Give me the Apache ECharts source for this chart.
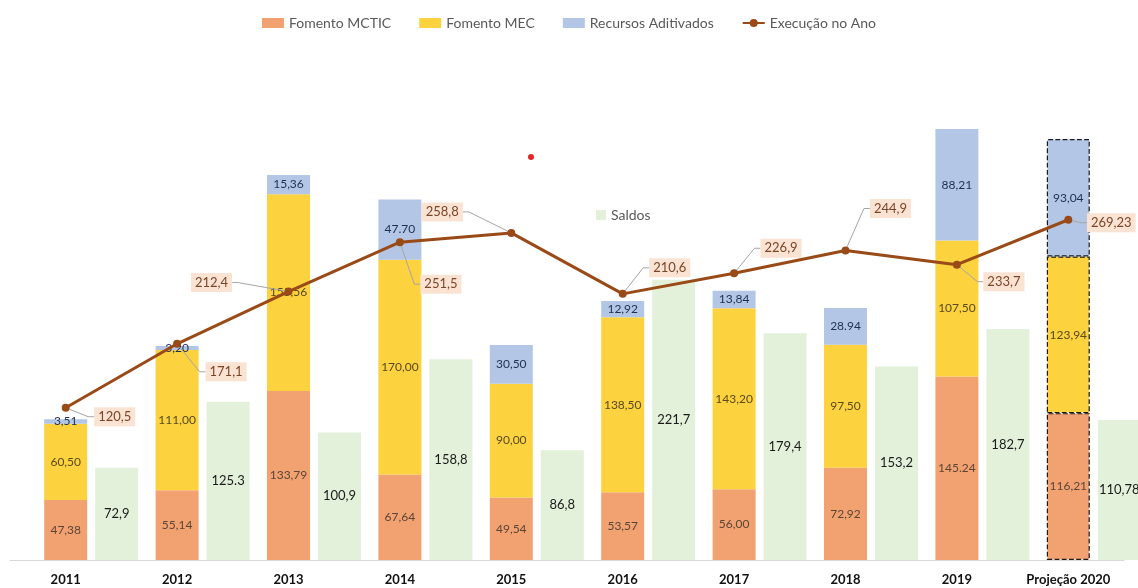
<!DOCTYPE html>
<html>
<head>
<meta charset="utf-8">
<script src="https://cdn.jsdelivr.net/npm/echarts@6/dist/echarts.min.js"></script>
<style>
  html, body { margin: 0; padding: 0; background: #fff; }
  #chart { width: 1138px; height: 588px; }
</style>
</head>
<body>
<div id="chart"></div>
<script>
// categories
const anos = ["2011", "2012", "2013", "2014", "2015", "2016", "2017", "2018", "2019", "Projeção 2020"];

// stacked values
const fomentoMctic = [47.38, 55.14, 133.79, 67.64, 49.54, 53.57, 56.0, 72.92, 145.24, 116.21];
const fomentoMec = [60.5, 111.0, 155.56, 170.0, 90.0, 138.5, 143.2, 97.5, 107.5, 123.94];
const recursosAditivados = [3.51, 3.2, 15.36, 47.7, 30.5, 12.92, 13.84, 28.94, 88.21, 93.04];
const saldos = [72.9, 125.3, 100.9, 158.8, 86.8, 221.7, 179.4, 153.2, 182.7, 110.78];
const execucao = [120.5, 171.1, 212.4, 251.5, 258.8, 210.6, 226.9, 244.9, 233.7, 269.23];

// texts as printed on the chart
const mcticLabels = ["47,38", "55,14", "133,79", "67,64", "49,54", "53,57", "56,00", "72,92", "145.24", "116,21"];
const mecLabels = ["60,50", "111,00", "155,56", "170,00", "90,00", "138,50", "143,20", "97,50", "107,50", "123,94"];
const aditLabels = ["3,51", "3,20", "15,36", "47.70", "30,50", "12,92", "13,84", "28.94", "88,21", "93,04"];
const saldoLabels = ["72,9", "125.3", "100,9", "158,8", "86,8", "221,7", "179,4", "153,2", "182,7", "110,78"];
const execLabels = ["120,5", "171,1", "212,4", "251,5", "258,8", "210,6", "226,9", "244,9", "233,7", "269,23"];

// where each "Execução" box sits relative to its point
const execOffsets = [[49, 9], [49, 28], [-77, -9], [41, 42], [-69, -21], [47, -26], [47, -25], [45, -42], [47, 17], [43, 3]];

const font = "Lato, 'Open Sans', sans-serif";
const lastIdx = anos.length - 1;

// projection bar gets a dashed outline
function withProjection(arr) {
  return arr.map((v, i) => {
    if (i !== lastIdx) return v;
    return {
      value: v,
      itemStyle: { borderColor: "#1a1a1a", borderWidth: 1.2, borderType: "dashed" },
    };
  });
}

function stackSeries(name, data, color, labels, labelColor) {
  return {
    name: name,
    type: "bar",
    stack: "total",
    barWidth: 43,
    barGap: "18.6%",
    z: 2,
    itemStyle: { color: color },
    label: {
      show: true,
      position: "inside",
      fontFamily: font,
      fontSize: 12,
      color: labelColor,
      formatter: (p) => labels[p.dataIndex],
    },
    data: withProjection(data),
  };
}

const chart = echarts.init(document.getElementById("chart"));

const options = {
  animation: false,
  backgroundColor: "#ffffff",
  textStyle: { fontFamily: font },
  legend: [
    {
      top: 11,
      left: "center",
      itemWidth: 22,
      itemHeight: 10,
      itemGap: 28,
      textStyle: { fontFamily: font, fontSize: 14, color: "#595959" },
      data: [
        { name: "Fomento MCTIC", icon: "rect" },
        { name: "Fomento MEC", icon: "rect" },
        { name: "Recursos Aditivados", icon: "rect" },
        { name: "Execução no Ano" },
      ],
    },
    {
      top: 203,
      left: 591,
      itemWidth: 10,
      itemHeight: 10,
      textStyle: { fontFamily: font, fontSize: 14, color: "#595959" },
      data: [{ name: "Saldos", icon: "rect" }],
    },
  ],
  grid: {
    left: 10,
    right: 14,
    top: 124,
    bottom: 28,
    containLabel: false,
  },
  xAxis: {
    type: "category",
    data: anos,
    axisLine: { lineStyle: { color: "#d9d9d9", width: 1 } },
    axisTick: { show: false },
    axisLabel: {
      fontFamily: font,
      fontWeight: "bold",
      fontSize: 13,
      color: "#111",
      margin: 13,
      interval: 0,
    },
  },
  yAxis: {
    type: "value",
    min: 0,
    max: 345,
    show: false,
    splitLine: { show: false },
  },
  graphic: [
    {
      type: "circle",
      left: 528,
      top: 154,
      shape: { r: 3 },
      style: { fill: "#e0262a" },
    },
  ],
  series: [
    // empty spacer so the stacked bars stay centred on the category
    { name: "spacer", type: "bar", barWidth: 43, barGap: "18.6%", data: [], silent: true },
    stackSeries("Fomento MCTIC", fomentoMctic, "#f2a271", mcticLabels, "#5b4636"),
    stackSeries("Fomento MEC", fomentoMec, "#fcd23f", mecLabels, "#5a4a22"),
    stackSeries("Recursos Aditivados", recursosAditivados, "#b3c6e6", aditLabels, "#1f2f4f"),
    {
      name: "Saldos",
      type: "bar",
      barWidth: 43,
      barGap: "18.6%",
      clip: false,
      z: 1,
      itemStyle: { color: "#e3f0da" },
      label: {
        show: true,
        position: "inside",
        fontFamily: font,
        fontSize: 13,
        color: "#1a1a1a",
        formatter: (p) => saldoLabels[p.dataIndex],
      },
      data: saldos,
    },
    {
      name: "Execução no Ano",
      type: "line",
      z: 5,
      symbol: "circle",
      symbolSize: 8,
      itemStyle: { color: "#9a4a16" },
      lineStyle: { color: "#9a4a16", width: 3 },
      label: {
        show: true,
        position: "inside",
        fontFamily: font,
        fontSize: 13,
        color: "#7a4426",
        backgroundColor: "#fbe3d3",
        padding: [3, 4],
        formatter: (p) => execLabels[p.dataIndex],
      },
      labelLine: {
        show: true,
        length2: 6,
        lineStyle: { color: "#a6a6a6", width: 1 },
      },
      labelLayout: (p) => ({
        dx: execOffsets[p.dataIndex][0],
        dy: execOffsets[p.dataIndex][1],
      }),
      data: execucao,
    },
  ],
};

chart.setOption(options);
</script>
</body>
</html>
